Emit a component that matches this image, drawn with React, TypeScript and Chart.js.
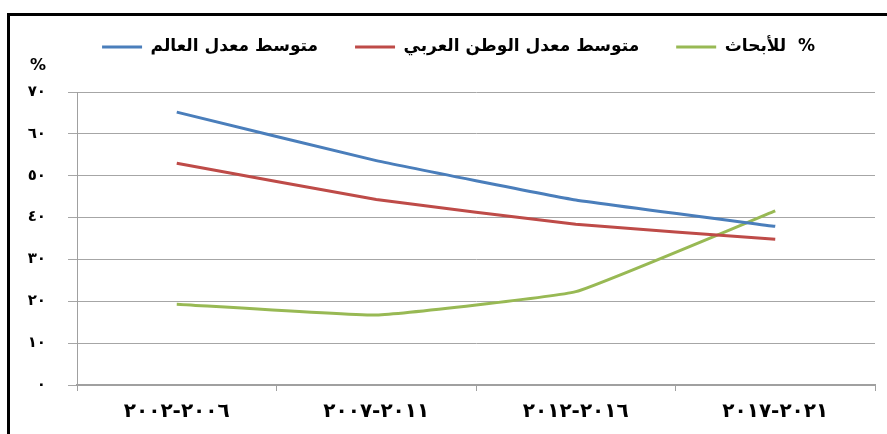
import React, { useEffect, useRef } from 'react';
import { Chart, registerables } from 'chart.js';

Chart.register(...registerables);

const categories = [
  '٢٠٠٢\u200E-\u200E٢٠٠٦',
  '٢٠٠٧\u200E-\u200E٢٠١١',
  '٢٠١٢\u200E-\u200E٢٠١٦',
  '٢٠١٧\u200E-\u200E٢٠٢١',
];
const seriesNames = ['متوسط معدل العالم', 'متوسط معدل الوطن العربي', 'للأبحاث  %'];
const worldAvg = [65.2, 53.6, 44.2, 37.9];
const arabAvg = [53.0, 44.3, 38.4, 34.8];
const researchPct = [19.3, 16.7, 22.3, 41.6];
const yTickLabels = ['٠', '١٠', '٢٠', '٣٠', '٤٠', '٥٠', '٦٠', '٧٠'];
const yAxisUnit = '%';
const seriesColors = ['#4a7ebb', '#be4b48', '#98b954'];

const FONT = '"DejaVu Sans", Arial, sans-serif';

const framePlugin = {
  id: 'frame',
  afterLayout(chart: any) {
    const l = chart.legend;
    if (l) {
      l.left += 21;
      l.right += 21;
      l.top -= 26.5;
      l.bottom -= 26.5;
    }
  },
  beforeDraw(chart: any) {
    const ctx = chart.ctx;
    ctx.save();
    ctx.fillStyle = '#ffffff';
    ctx.fillRect(0, 0, chart.width, chart.height);
    ctx.fillStyle = '#000000';
    ctx.fillRect(7, 13, chart.width - 7, 3);
    ctx.fillRect(7, 13, 3, chart.height - 13);
    ctx.restore();
  },
  afterDraw(chart: any) {
    const ctx = chart.ctx;
    ctx.save();
    ctx.fillStyle = '#000000';
    ctx.font = `bold 16px ${FONT}`;
    ctx.textAlign = 'center';
    ctx.textBaseline = 'middle';
    ctx.fillText(yAxisUnit, 38, 66);
    ctx.restore();
  },
};

export default function App() {
  const ref = useRef<HTMLCanvasElement | null>(null);
  useEffect(() => {
    if (!ref.current) return;
    const chart = new Chart(ref.current, {
      type: 'line',
      data: {
        labels: categories,
        datasets: [worldAvg, arabAvg, researchPct].map((d, i) => ({
          label: seriesNames[i],
          data: d,
          borderColor: seriesColors[i],
          backgroundColor: seriesColors[i],
          borderWidth: 3,
          pointRadius: 0,
          tension: 0.1,
          fill: false,
        })),
      },
      options: {
        responsive: false,
        animation: false,
        layout: { padding: { left: 0, right: 12, top: 28, bottom: 0 } },
        plugins: {
          legend: {
            position: 'top',
            align: 'center',
            labels: {
              usePointStyle: true,
              pointStyle: 'line',
              pointStyleWidth: 40,
              padding: 37,
              color: '#000',
              font: { family: FONT, size: 17, weight: 'bold' },
            },
          },
          tooltip: { enabled: false },
        },
        scales: {
          x: {
            offset: true,
            grid: {
              offset: true,
              drawOnChartArea: false,
              drawTicks: true,
              tickLength: 6,
              color: '#a0a0a0',
            },
            border: { color: '#a0a0a0', width: 2 },
            ticks: {
              color: '#000',
              font: { family: FONT, size: 20, weight: 'bold' },
              padding: 9,
              maxRotation: 0,
              autoSkip: false,
            },
            afterFit: (s: any) => {
              s.height = 49;
            },
          },
          y: {
            min: 0,
            max: 70,
            ticks: {
              stepSize: 10,
              padding: 22,
              color: '#000',
              font: { family: FONT, size: 15, weight: 'bold' },
              callback: (v: any) => yTickLabels[Math.round(Number(v) / 10)],
            },
            grid: { color: '#a6a6a6', tickLength: 9, lineWidth: 1 },
            border: { color: '#a0a0a0', width: 1 },
            afterFit: (s: any) => {
              s.width = 77;
            },
          },
        },
      },
      plugins: [framePlugin],
    } as any);
    return () => chart.destroy();
  }, []);
  return (
    <canvas
      ref={ref}
      width={887}
      height={434}
      style={{ position: 'absolute', left: 0, top: 0, display: 'block' }}
    />
  );
}
